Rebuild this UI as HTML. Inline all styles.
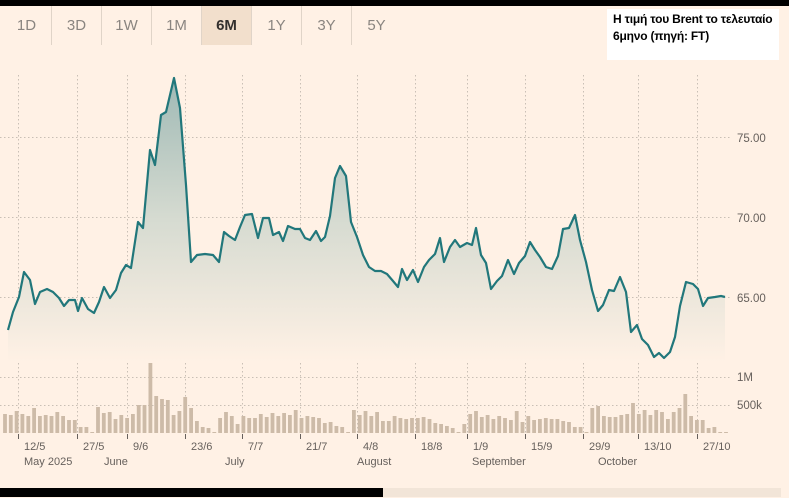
<!DOCTYPE html>
<html><head><meta charset="utf-8"><style>
body{margin:0;width:789px;height:498px;background:#fff1e5;overflow:hidden;font-family:"Liberation Sans","DejaVu Sans",sans-serif;position:relative}
.top{position:absolute;left:0;top:0;width:789px;height:6px;background:#000}
.tab{position:absolute;top:6px;height:39px;width:49px;line-height:40px;text-align:center;color:#8a8580;font-size:15px;border-right:1px solid #e0d4c8}
.cap{position:absolute;left:607px;top:9px;width:172px;height:51px;background:#fff;font-size:12px;font-weight:bold;color:#000;line-height:17px;padding:2px 0 0 6px;box-sizing:border-box;letter-spacing:-0.2px;white-space:nowrap;font-family:"Liberation Sans",sans-serif}
svg{position:absolute;left:0;top:0}
</style></head><body>
<div class="top"></div>
<div class="tab" style="left:2px">1D</div>
<div class="tab" style="left:52px">3D</div>
<div class="tab" style="left:102px">1W</div>
<div class="tab" style="left:152px">1M</div>
<div class="tab" style="left:202px;background:#f2dfcc;color:#33302e;font-weight:bold">6M</div>
<div class="tab" style="left:252px">1Y</div>
<div class="tab" style="left:302px">3Y</div>
<div class="tab" style="left:352px;border-right:none">5Y</div>
<div class="cap">Η τιμή του Brent το τελευταίο<br>6μηνο (πηγή: FT)</div>
<svg width="789" height="498" id="s">
<defs><linearGradient id="g" gradientUnits="userSpaceOnUse" x1="0" y1="78" x2="0" y2="362">
<stop offset="0" stop-color="#9fb9b5"/><stop offset="0.5" stop-color="#d6dbd1"/><stop offset="1" stop-color="#fff1e5"/></linearGradient></defs>
<g stroke="#c9bfb5" stroke-dasharray="1.5,2.5" stroke-width="1">
<line x1="0" y1="137.5" x2="730" y2="137.5"/><line x1="0" y1="217.5" x2="730" y2="217.5"/><line x1="0" y1="297.5" x2="730" y2="297.5"/><line x1="0" y1="377.5" x2="730" y2="377.5"/><line x1="0" y1="405.5" x2="730" y2="405.5"/>
<g id="vg"></g>
</g>
<path id="area" fill="url(#g)"/>
<polyline id="ln" fill="none" stroke="#21777b" stroke-width="2.2" stroke-linejoin="round"/>
<g id="bars" fill="#cdbba8"></g>
<g font-size="11.5" fill="#66605c">
<text x="737" y="142">75.00</text><text x="737" y="222">70.00</text><text x="737" y="302">65.00</text><text x="737" y="381">1M</text><text x="737" y="409">500k</text>
</g>
<g id="tk" stroke="#66605c" stroke-width="1"></g>
<g id="tl" font-size="11" fill="#66605c"></g>
<g font-size="11" fill="#66605c">
<text x="24" y="465">May 2025</text><text x="104" y="465">June</text><text x="225" y="465">July</text><text x="357" y="465">August</text><text x="472" y="465">September</text><text x="598" y="465">October</text>
</g>
<rect x="0" y="488" width="383" height="9" fill="#000"/>
<rect x="383" y="488" width="398" height="9" fill="#f2e5d8"/>
</svg>
<script>
var P=[[8,330],[13,312],[19,297],[24,272],[30,280],[35,304],[40,292],[47,289],[53,292],[59,298],[64,306],[69,300],[75,300],[78,311],[82,298],[88,309],[94,313],[99,302],[104,287],[110,298],[116,290],[121,273],[126,265],[131,268],[138,222],[143,228],[150,150],[155,165],[161,115],[166,112],[174,78],[180,108],[186,185],[191,262],[197,255],[205,254],[213,255],[219,262],[224,232],[229,236],[235,240],[240,227],[245,215],[252,214],[258,238],[263,218],[269,218],[273,235],[279,232],[283,241],[288,226],[295,229],[300,229],[305,238],[310,240],[316,231],[321,241],[325,237],[330,216],[335,178],[340,166],[346,176],[351,222],[357,237],[363,255],[369,267],[375,271],[381,271],[387,274],[393,281],[398,287],[402,269],[407,280],[413,270],[418,282],[424,267],[429,260],[435,254],[440,238],[444,262],[450,247],[455,240],[460,247],[467,243],[472,245],[476,228],[481,255],[486,263],[491,289],[497,281],[502,276],[508,260],[514,274],[519,263],[525,256],[530,242],[535,250],[540,257],[546,267],[552,269],[558,256],[563,229],[569,228],[575,215],[580,240],[586,262],[592,290],[598,311],[603,305],[609,290],[614,291],[620,277],[626,292],[631,332],[637,325],[642,339],[648,345],[654,357],[659,353],[664,358],[670,352],[675,337],[680,306],[686,282],[693,284],[698,289],[703,306],[708,298],[715,297],[721,296],[725,297]];
var s=P.map(function(p){return p.join(',')}).join(' ');
document.getElementById('ln').setAttribute('points',s);
document.getElementById('area').setAttribute('d','M'+s.replace(/ /g,' L')+' L725,362 L8,362 Z');
var H=[19,18,22,19,17,25,17,18,17,21,17,13,13,6,6,1,26,20,21,14,18,15,19,28,28,70,37,34,33,18,22,36,25,12,6,5,1,15,21,17,9,17,15,15,19,16,20,17,20,18,23,15,17,16,15,10,11,7,6,1,23,18,22,17,21,12,12,17,15,14,15,15,16,14,10,9,7,5,1,9,19,22,16,18,14,17,15,13,22,11,17,13,14,15,14,14,12,11,6,6,1,25,27,17,16,16,18,19,30,19,23,18,23,21,14,21,25,39,17,13,13,5,6,1,1];
var b='',st=(726-5)/(H.length-1);
H.forEach(function(h,i){var x=5+i*st;b+='<rect x="'+(x-1.9).toFixed(1)+'" y="'+(433-h)+'" width="3.8" height="'+h+'"/>';});
document.getElementById('bars').innerHTML=b;
var T=[18,77,127,185,242,300,357,415,467,525,583,638,697],L=['12/5','27/5','9/6','23/6','7/7','21/7','4/8','18/8','1/9','15/9','29/9','13/10','27/10'];
var v='',t='',l='';
T.forEach(function(x,i){v+='<line x1="'+(x+.5)+'" y1="75" x2="'+(x+.5)+'" y2="433"/>';t+='<line x1="'+(x+.5)+'" y1="434" x2="'+(x+.5)+'" y2="439"/>';l+='<text x="'+(x+6)+'" y="450">'+L[i]+'</text>';});
document.getElementById('vg').innerHTML=v;document.getElementById('tk').innerHTML=t;document.getElementById('tl').innerHTML=l;
</script>
</body></html>
